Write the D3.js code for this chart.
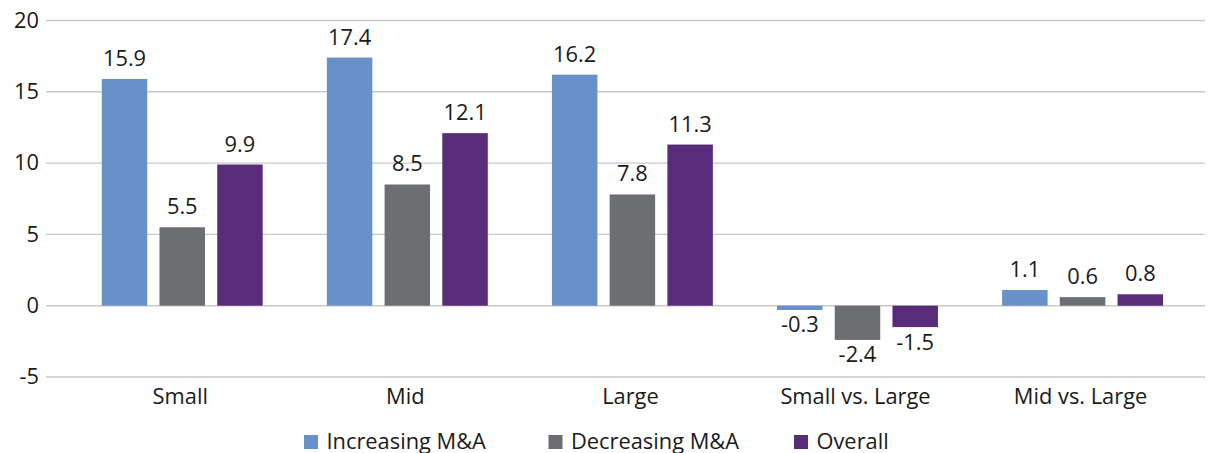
<!DOCTYPE html>
<html>
<head>
<meta charset="utf-8">
<script src="https://cdn.jsdelivr.net/npm/d3@7"></script>
<style>
  html, body { margin: 0; padding: 0; background: #fff; }
  svg { display: block; }
  text { font-family: "Open Sans", sans-serif; fill: #1a1a1a; }
</style>
</head>
<body>
<svg id="chart" width="1208" height="453"></svg>
<script>
const categories = ["Small", "Mid", "Large", "Small vs. Large", "Mid vs. Large"];
const seriesNames = ["Increasing M&A", "Decreasing M&A", "Overall"];
const increasing = [15.9, 17.4, 16.2, -0.3, 1.1];
const decreasing = [5.5, 8.5, 7.8, -2.4, 0.6];
const overall = [9.9, 12.1, 11.3, -1.5, 0.8];
const yTicks = [-5, 0, 5, 10, 15, 20];
const colors = ["#6890C9", "#6D6E72", "#582C78"];

const seriesValues = [increasing, decreasing, overall];
const data = categories.map((c, i) => ({
  cat: c,
  vals: seriesNames.map((s, j) => ({ series: s, value: seriesValues[j][i], idx: j }))
}));

const svg = d3.select("#chart");
const FS = 21, SX = 1.04;

const y = d3.scaleLinear().domain([-5, 20]).range([377, 20.5]);
const x = d3.scaleBand().domain(categories).range([69.7, 1195.1])
  .paddingInner(0.285).paddingOuter(0.1425);
const xs = d3.scaleBand().domain(seriesNames).range([0, x.bandwidth()]).paddingInner(0.212);

function stext(g, tx, ty, str, anchor) {
  return g.append("text")
    .attr("transform", `translate(${tx},${ty}) scale(${SX},1)`)
    .attr("text-anchor", anchor || "middle")
    .style("font-size", FS + "px")
    .text(str);
}

// grid lines
const grid = svg.append("g");
grid.selectAll("line").data(yTicks).join("line")
  .attr("x1", 46).attr("x2", 1205)
  .attr("y1", d => y(d)).attr("y2", d => y(d))
  .attr("stroke", "#c9c9c9").attr("stroke-width", 1.4);

// y tick labels
const yl = svg.append("g");
yTicks.forEach(t => stext(yl, 39, y(t) + 7.3, String(t), "end"));

// bars
const groups = svg.append("g").selectAll("g").data(data).join("g")
  .attr("transform", d => `translate(${x(d.cat)},0)`);
groups.selectAll("rect").data(d => d.vals).join("rect")
  .attr("x", d => xs(d.series))
  .attr("width", xs.bandwidth())
  .attr("y", d => Math.min(y(d.value), y(0)))
  .attr("height", d => Math.abs(y(d.value) - y(0)))
  .attr("fill", d => colors[d.idx]);

// data labels
const lab = svg.append("g");
data.forEach(d => {
  d.vals.forEach(v => {
    const cx = x(d.cat) + xs(v.series) + xs.bandwidth() / 2;
    const ty = v.value >= 0 ? y(v.value) - 13 : y(v.value) + 22.5;
    stext(lab, cx, ty, v.value.toFixed(1));
  });
});

// category labels
const cl = svg.append("g");
categories.forEach(c => stext(cl, x(c) + x.bandwidth() / 2 - 2, 404, c));

// legend
const legendX = [304, 548.5, 794];
const lg = svg.append("g");
seriesNames.forEach((s, i) => {
  lg.append("rect").attr("x", legendX[i]).attr("y", 435).attr("width", 14).attr("height", 14)
    .attr("fill", colors[i]);
  stext(lg, legendX[i] + 22.5, 448.5, s, "start");
});
</script>
</body>
</html>
